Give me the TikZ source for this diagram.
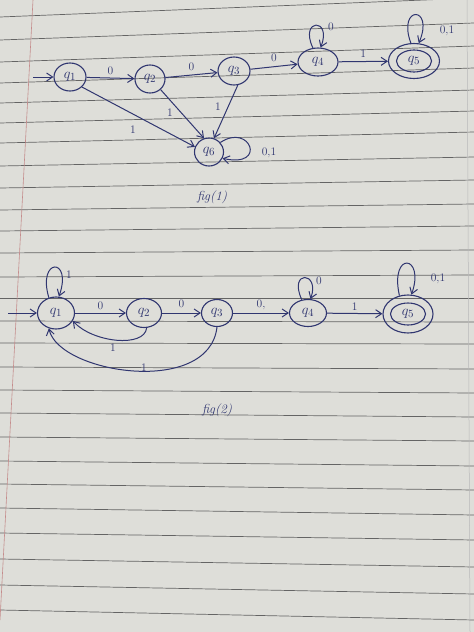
\documentclass[tikz,border=0pt]{standalone}
\usetikzlibrary{shapes.geometric,arrows.meta}
\definecolor{paper}{RGB}{222,222,217}
\definecolor{rulec}{RGB}{100,100,100}
\definecolor{ink}{RGB}{48,54,112}
\definecolor{marginc}{RGB}{196,140,140}
\begin{document}
\begin{tikzpicture}[x=1pt,y=-1pt,
  st/.style={ellipse,draw=ink,line width=1.1pt,inner sep=0pt,text=ink,font=\fontsize{15}{17}\selectfont},
  edge/.style={draw=ink,line width=1pt,-{Straight Barb[length=6pt,width=8pt]}},
  lab/.style={text=ink,font=\fontsize{11.5}{13}\selectfont,inner sep=1pt},
  ruleline/.style={draw=rulec,line width=0.7pt},
]
\useasboundingbox (0,0) rectangle (474,632);
\fill[paper] (0,0) rectangle (474,632);
% ruled lines
\foreach \l/\r in {17/-2,40/23,62/46,83/68,103/90,123/111,143/132,166/157,188/180,210/204,231/226,253/250,277/275,298/298,321/322,343/344,367/369,390/393,413/417,437/441,461/466,484/490,508/515,533/540,559/567,585/594,610/620}
  \draw[ruleline] (0,\l) -- (474,\r);
\draw[marginc,line width=0.6pt] (33,0) -- (0,620);
\draw[rulec!45,line width=0.5pt] (467,0) -- (470,632);

% ---------- fig (1) ----------
\node[st,minimum width=32pt,minimum height=28pt] (a1) at (70,77) {$q_1$};
\node[st,minimum width=30pt,minimum height=28pt] (a2) at (150,79) {$q_2$};
\node[st,minimum width=32pt,minimum height=28pt] (a3) at (234,71) {$q_3$};
\node[st,minimum width=40pt,minimum height=28pt] (a4) at (318,62) {$q_4$};
\node[st,minimum width=51pt,minimum height=35pt] (a5) at (414,61) {};
\node[st,minimum width=35pt,minimum height=22pt] (a5in) at (414,61) {$q_5$};
\node[st,minimum width=29pt,minimum height=28pt] (a6) at (209,152) {$q_6$};
\coordinate (s1) at (33,77);

\draw[edge] (s1) -- (a1);
\draw[edge] (a1) -- node[lab,above=2pt] (l12) {0} (a2);
\draw[edge] (a2) -- node[lab,above=3pt] (l23) {0} (a3);
\draw[edge] (a3) -- node[lab,above=3pt] (l34) {0} (a4);
\draw[edge] (a4) -- node[lab,above=3pt] (l45) {1} (a5);
\draw[edge] (a1.-40) -- (a6.160);
\node[lab] (l16) at (133,130) {1};
\draw[edge] (a2.-45) -- (a6.110);
\node[lab] (l26) at (170,113) {1};
\draw[edge] (a3.-75) -- (a6.70);
\node[lab] (l36) at (218,107) {1};
\draw[edge] (a4.110) .. controls +(-14,-30) and +(12,-30) .. (a4.80);
\node[lab] (l44) at (331,27) {0};
\draw[edge] (a5.100) .. controls +(-14,-38) and +(16,-38) .. (a5.75);
\node[lab] (l55) at (447,31) {0,1};
\draw[edge] (a6.40) .. controls +(30,-20) and +(45,10) .. (a6.-25);
\node[lab] (l66) at (269,153) {0,1};
\node[text=ink,font=\fontsize{13}{15}\selectfont\itshape] (f1) at (212,197) {fig(1)};

% ---------- fig (2) ----------
\node[st,minimum width=37pt,minimum height=32pt] (b1) at (56,313) {$q_1$};
\node[st,minimum width=35pt,minimum height=29pt] (b2) at (144,313) {$q_2$};
\node[st,minimum width=31pt,minimum height=27pt] (b3) at (217,313) {$q_3$};
\node[st,minimum width=37pt,minimum height=27pt] (b4) at (308,313) {$q_4$};
\node[st,minimum width=50pt,minimum height=38pt] (b5) at (408,314) {};
\node[st,minimum width=35pt,minimum height=22pt] (b5in) at (408,314) {$q_5$};
\coordinate (s2) at (8,313);

\draw[edge] (s2) -- (b1);
\draw[edge] (b1) -- node[lab,above=2pt] (m12) {0} (b2);
\draw[edge] (b2) -- node[lab,above=4pt] (m23) {0} (b3);
\draw[edge] (b3) -- node[lab,above=2pt] (m34) {0,} (b4);
\draw[edge] (b4) -- node[lab,above=1pt] (m45) {1} (b5);
\draw[edge] (b1.115) .. controls +(-12,-40) and +(14,-40) .. (b1.80);
\node[lab] (m11) at (69,275) {1};
\draw[edge] (b4.115) .. controls +(-14,-30) and +(10,-28) .. (b4.80);
\node[lab] (m44) at (319,281) {0};
\draw[edge] (b5.115) .. controls +(-10,-45) and +(14,-40) .. (b5.80);
\node[lab] (m55) at (438,279) {0,1};
\draw[edge] (b2.-80) .. controls +(-2,20) and +(20,22) .. (b1.-25);
\node[lab] (m21) at (113,348) {1};
\draw[edge] (b3.-90) .. controls +(-8,70) and +(10,45) .. (b1.-115);
\node[lab] (m31) at (144,368) {1};
\node[text=ink,font=\fontsize{13}{15}\selectfont\itshape] (f2) at (217,410) {fig(2)};
\end{tikzpicture}
\end{document}
